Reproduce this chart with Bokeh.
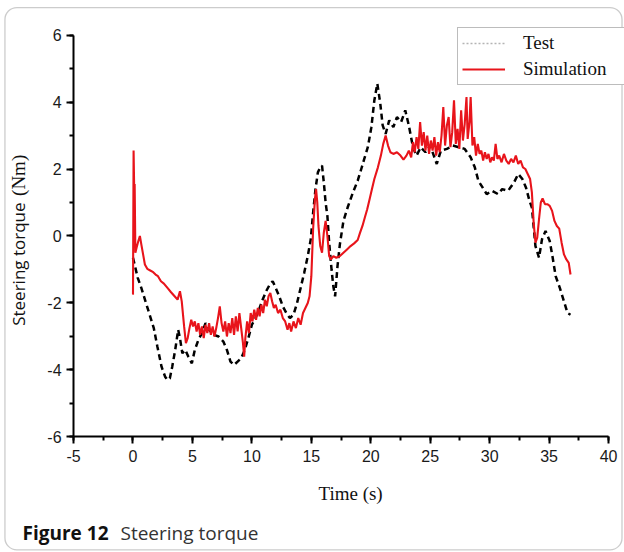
from bokeh.plotting import figure
from bokeh.models import (Label, Legend, LegendItem, BoxAnnotation, LinearAxis,
                          SingleIntervalTicker, Range1d)
from bokeh.embed import file_html
from bokeh.resources import INLINE

# Measured steering torque (Nm) against time (s)
test_time = [0.00, 0.20, 0.40, 0.70, 1.05, 1.40, 1.75, 2.05, 2.40, 2.70, 2.90, 3.10,
             3.30, 3.55, 3.80, 3.95, 4.15, 4.40, 4.65, 4.95, 5.20, 5.50, 5.80, 6.10,
             6.40, 6.80, 7.20, 7.60, 7.90, 8.20, 8.50, 8.80, 9.10, 9.40, 9.70, 10.00,
             10.30, 10.60, 10.90, 11.20, 11.50, 11.75, 12.00, 12.30, 12.60, 12.90, 13.20,
             13.50, 13.80, 14.10, 14.40, 14.70, 14.95, 15.15, 15.35, 15.55, 15.75, 15.90,
             16.05, 16.20, 16.35, 16.50, 16.70, 16.85, 17.00, 17.20, 17.40, 17.70, 18.05,
             18.50, 18.90, 19.20, 19.45, 19.75, 20.05, 20.30, 20.55, 20.80, 21.00, 21.25,
             21.55, 21.90, 22.20, 22.55, 22.90, 23.20, 23.55, 23.85, 24.20, 24.60, 25.00,
             25.30, 25.55, 25.90, 26.40, 26.90, 27.40, 27.90, 28.40, 28.75, 29.05, 29.40,
             29.75, 30.20, 30.70, 31.05, 31.55, 32.05, 32.40, 32.75, 33.05, 33.35, 33.55,
             33.85, 34.15, 34.40, 34.70, 35.05, 35.30, 35.55, 35.90, 36.25, 36.55, 36.80]
test_torque = [-0.65, -0.95, -1.25, -1.55, -1.95, -2.35, -2.75, -3.30, -3.90, -4.20, -4.30, -4.25,
               -3.90, -3.40, -2.80, -3.05, -3.50, -3.40, -3.60, -3.80, -3.40, -3.10, -2.90, -2.60,
               -2.80, -2.95, -3.00, -3.15, -3.40, -3.75, -3.85, -3.75, -3.65, -3.40, -3.05, -2.65,
               -2.45, -2.20, -1.90, -1.65, -1.45, -1.35, -1.55, -1.80, -2.10, -2.30, -2.45,
               -2.35, -2.00, -1.55, -1.10, -0.60, -0.10, 0.70, 1.40, 1.90, 2.05, 2.10,
               1.60, 1.00, 0.60, -0.20, -1.00, -1.50, -1.80, -0.90, -0.25, 0.45, 0.85,
               1.30, 1.65, 2.00, 2.30, 2.65, 3.25, 4.05, 4.55, 3.95, 3.30, 3.05,
               3.45, 3.25, 3.55, 3.40, 3.75, 3.30, 2.65, 2.40, 2.65, 2.50, 2.70,
               2.40, 2.15, 2.55, 2.60, 2.70, 2.65, 2.60, 2.35, 2.05, 1.65, 1.45,
               1.25, 1.35, 1.25, 1.40, 1.35, 1.60, 1.85, 1.70, 1.45, 1.05, 0.85,
               -0.30, -0.65, -0.10, 0.15, -0.15, -0.65, -1.20, -1.55, -1.95, -2.30, -2.35]

# Simulated steering torque (Nm) against time (s)
sim_time = [0.00, 0.05, 0.10, 0.14, 0.20, 0.30, 0.45, 0.58, 0.70, 0.85, 1.00, 1.20,
            1.45, 1.70, 1.90, 2.10, 2.35, 2.60, 2.90, 3.20, 3.50, 3.75, 3.95, 4.10,
            4.30, 4.45, 4.60, 4.75, 4.90, 5.05, 5.20, 5.35, 5.50, 5.65, 5.80, 5.95,
            6.10, 6.25, 6.40, 6.55, 6.70, 6.85, 7.00, 7.15, 7.30, 7.45, 7.60, 7.75,
            7.90, 8.05, 8.20, 8.35, 8.50, 8.65, 8.80, 8.95, 9.10, 9.25, 9.35, 9.45,
            9.60, 9.75, 9.90, 10.05, 10.20, 10.35, 10.50, 10.65, 10.80, 10.95, 11.10, 11.25,
            11.40, 11.55, 11.70, 11.85, 12.00, 12.20, 12.40, 12.60, 12.80, 13.00, 13.15, 13.30,
            13.50, 13.70, 13.90, 14.10, 14.30, 14.50, 14.70, 14.85, 15.00, 15.15, 15.30, 15.40,
            15.50, 15.60, 15.75, 15.90, 16.05, 16.20, 16.35, 16.50, 16.65, 16.85, 17.10, 17.40,
            17.70, 18.00, 18.30, 18.60, 18.90, 19.10, 19.30, 19.50, 19.70, 19.90, 20.10, 20.30,
            20.60, 20.85, 21.05, 21.25, 21.45, 21.65, 21.90, 22.20, 22.50, 22.75, 23.00, 23.20,
            23.40, 23.55, 23.70, 23.85, 24.00, 24.15, 24.30, 24.45, 24.60, 24.75, 24.90, 25.05,
            25.20, 25.35, 25.50, 25.65, 25.80, 25.95, 26.10, 26.25, 26.40, 26.55, 26.70, 26.85,
            27.00, 27.15, 27.30, 27.45, 27.60, 27.75, 27.90, 28.05, 28.15, 28.30, 28.40, 28.55,
            28.70, 28.85, 29.00, 29.15, 29.30, 29.45, 29.60, 29.75, 29.90, 30.05, 30.20, 30.35,
            30.50, 30.65, 30.80, 31.00, 31.20, 31.40, 31.60, 31.80, 32.00, 32.20, 32.40, 32.60,
            32.80, 33.00, 33.20, 33.40, 33.55, 33.70, 33.85, 34.00, 34.15, 34.30, 34.45, 34.65,
            34.85, 35.05, 35.25, 35.45, 35.65, 35.85, 36.05, 36.25, 36.45, 36.65, 36.80]
sim_torque = [-1.75, 2.55, 1.40, 1.55, -0.50, -0.35, -0.15, 0.00, -0.25, -0.55, -0.85, -0.98,
              -1.03, -1.08, -1.15, -1.20, -1.35, -1.42, -1.55, -1.68, -1.80, -1.90, -1.65, -1.95,
              -2.70, -3.20, -3.05, -2.75, -2.50, -2.70, -2.55, -2.85, -2.60, -2.95, -2.70, -3.05,
              -2.65, -2.90, -2.60, -2.95, -2.70, -3.00, -2.75, -2.45, -2.10, -2.60, -2.85, -2.55,
              -3.00, -2.60, -2.90, -2.45, -2.95, -2.40, -2.85, -2.30, -2.75, -3.20, -3.60, -3.05,
              -2.55, -2.90, -2.30, -2.55, -2.20, -2.50, -2.15, -2.40, -2.05, -2.30, -1.90, -2.10,
              -1.80, -1.70, -1.95, -2.15, -2.05, -2.30, -2.20, -2.45, -2.55, -2.80, -2.60, -2.85,
              -2.55, -2.75, -2.45, -2.65, -2.30, -2.15, -2.00, -1.80, -1.20, 0.20, 1.10, 1.40,
              1.00, 0.30, -0.30, -0.50, 0.10, 0.45, 0.00, -0.60, -0.70, -0.60, -0.65, -0.60,
              -0.50, -0.40, -0.30, -0.22, -0.12, 0.10, 0.30, 0.55, 0.80, 1.10, 1.40, 1.70,
              2.05, 2.40, 2.75, 3.00, 2.70, 2.50, 2.45, 2.50, 2.40, 2.28, 2.40, 2.55,
              2.35, 2.80, 2.50, 2.95, 2.60, 3.40, 2.70, 3.10, 2.55, 3.00, 2.45, 2.85,
              2.55, 2.95, 2.40, 2.80, 2.50, 3.00, 3.85, 2.70, 3.30, 3.55, 2.65, 3.10,
              4.05, 2.75, 3.20, 2.60, 3.75, 2.85, 3.35, 4.15, 2.90, 3.40, 4.15, 2.70,
              2.95, 2.40, 2.75, 2.45, 2.55, 2.25, 2.50, 2.30, 2.45, 2.20, 2.35, 2.25,
              2.75, 2.30, 2.40, 2.20, 2.45, 2.25, 2.15, 2.30, 2.20, 2.40, 2.15, 2.25,
              2.05, 2.00, 1.85, 1.70, 1.30, 0.40, -0.20, -0.05, 0.50, 1.00, 1.12, 0.95,
              0.95, 0.90, 0.75, 0.45, 0.30, 0.22, -0.20, -0.55, -0.70, -0.80, -1.15]

x_tick_labels = {-5: "-5"}
y_tick_labels = {-6: "-6", -4: "-4", -2: "-2"}

SERIF = "Liberation Serif"
SANS = "Open Sans"

# The plotting area fills the whole canvas; the axes sit at fixed data locations
p = figure(width=624, height=552,
           x_range=Range1d(-11.144, 41.34), y_range=Range1d(-9.448, 7.03),
           x_axis_location=None, y_axis_location=None,
           output_backend="svg", toolbar_location=None, min_border=0)
p.outline_line_color = None
p.xgrid.visible = False
p.ygrid.visible = False
p.background_fill_color = "white"
p.border_fill_color = "white"

# measured curve underneath, simulation on top
p.line(test_time, test_torque, line_color="black", line_width=2.5, line_dash="6 4")
sim = p.line(sim_time, sim_torque, line_color="#e8141b", line_width=2.1)
test_key = p.line([float("nan")] * 2, [float("nan")] * 2, line_color="#b4b4b4",
                  line_width=1.3, line_dash="2 2")

xaxis = LinearAxis(fixed_location=-6, bounds=(-5, 40),
                   ticker=SingleIntervalTicker(interval=5, num_minor_ticks=2),
                   major_label_overrides=x_tick_labels, major_label_standoff=6)
yaxis = LinearAxis(fixed_location=-5, bounds=(-6, 6),
                   ticker=SingleIntervalTicker(interval=2, num_minor_ticks=2),
                   major_label_overrides=y_tick_labels, major_label_standoff=5)
for ax in (xaxis, yaxis):
    ax.axis_line_width = 2
    ax.axis_line_color = "black"
    ax.major_tick_line_width = 2
    ax.minor_tick_line_width = 2
    ax.major_tick_in = 0
    ax.major_tick_out = 7
    ax.minor_tick_in = 0
    ax.minor_tick_out = 4
    ax.major_label_text_font = "Liberation Sans"
    ax.major_label_text_font_size = "16px"
    ax.major_label_text_color = "#1a1a1a"
p.add_layout(xaxis, "below")
p.add_layout(yaxis, "left")

legend = Legend(items=[LegendItem(label="Test", renderers=[test_key]),
                       LegendItem(label="Simulation", renderers=[sim])],
                location=(457, 467), margin=0, padding=4, spacing=4,
                glyph_width=43, glyph_height=22, label_height=22, label_width=97,
                label_standoff=18,
                label_text_font=SERIF, label_text_font_size="19px",
                label_text_color="#111111",
                border_line_color="#7a7a7a", border_line_width=1.5,
                background_fill_color="white", background_fill_alpha=1)
p.add_layout(legend)

# axis titles
p.add_layout(Label(x=18.3, y=-7.69, text="Time (s)", text_font=SERIF,
                   text_font_size="19px", text_align="center",
                   text_baseline="middle", text_color="#111111"))
p.add_layout(Label(x=-9.63, y=-0.84, text="Steering torque", text_font=SANS,
                   text_font_size="17px", text_align="center", angle=1.5708,
                   text_baseline="middle", text_color="#111111"))
p.add_layout(Label(x=-9.63, y=1.81, text="(Nm)", text_font=SERIF,
                   text_font_size="19px", text_align="center", angle=1.5708,
                   text_baseline="middle", text_color="#111111"))

# caption
p.add_layout(Label(x=-9.29, y=-8.88, text="Figure 12", text_font=SANS,
                   text_font_style="bold", text_font_size="19px",
                   text_baseline="alphabetic", text_color="#111111"))
p.add_layout(Label(x=-1.05, y=-8.88, text="Steering torque", text_font=SANS,
                   text_font_size="19px", text_baseline="alphabetic",
                   text_color="#333333"))

# rounded frame around the whole figure
p.add_layout(BoxAnnotation(left=-10.77, right=41.13, top=6.82, bottom=-9.37,
                           fill_color=None, line_color="#555555", line_width=1.3,
                           border_radius=12))

open("out.html", "w").write(file_html(p, INLINE))
